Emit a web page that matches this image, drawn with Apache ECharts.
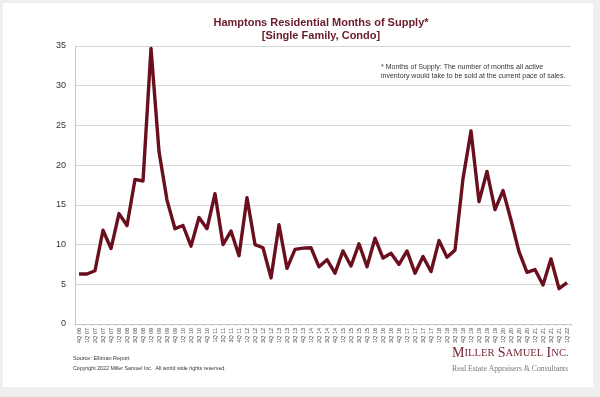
<!DOCTYPE html>
<html>
<head>
<meta charset="utf-8">
<script src="https://cdn.jsdelivr.net/npm/echarts@6/dist/echarts.min.js"></script>
<style>
html,body{margin:0;padding:0;background:#efefef;}
#card{position:absolute;left:3px;top:3px;width:590px;height:384px;background:#fff;}
#chart{position:absolute;left:0;top:0;width:600px;height:397px;}
</style>
</head>
<body>
<div id="card"></div>
<div id="chart"></div>
<script>
// quarters 4Q 06 .. 1Q 22
var quarters = ['4Q 06'];
for (var y = 7; y <= 21; y++) {
	for (var q = 1; q <= 4; q++) {
		quarters.push(q + 'Q ' + (y < 10 ? '0' + y : y));
	}
}
quarters.push('1Q 22');

// months of supply
var supply = [
	6.3, 6.3, 6.7, 11.8, 9.5, 13.9, 12.4, 18.2, 18.0, 34.7,
	21.7, 15.6, 12.0, 12.4, 9.8, 13.4, 12.0, 16.4, 10.0, 11.7,
	8.6, 15.9, 10.0, 9.6, 5.8, 12.5, 7.0, 9.4, 9.55, 9.6,
	7.2, 8.1, 6.4, 9.2, 7.3, 10.1, 7.2, 10.8, 8.3, 8.9,
	7.5, 9.2, 6.4, 8.5, 6.6, 10.5, 8.4, 9.3, 18.3, 24.3,
	15.4, 19.2, 14.4, 16.8, 13.1, 9.1, 6.5, 6.85, 4.9, 8.2,
	4.45, 5.2
];
var yTicks = [0, 5, 10, 15, 20, 25, 30, 35];

var myChart = echarts.init(document.getElementById('chart'));
var option = {
	backgroundColor: 'transparent',
	animation: false,
	textStyle: {fontFamily: 'Liberation Sans'},
	title: {
		text: 'Hamptons Residential Months of Supply*\n[Single Family, Condo]',
		left: 316,
		textAlign: 'center',
		top: 11,
		textStyle: {
			color: '#6b1a2a',
			fontSize: 11,
			fontWeight: 'bold',
			lineHeight: 13,
			fontFamily: 'Liberation Sans'
		}
	},
	grid: {left: 75, top: 46, width: 496, height: 278},
	xAxis: {
		type: 'category',
		data: quarters,
		boundaryGap: true,
		axisLine: {lineStyle: {color: '#c8c8c8', width: 1}},
		axisTick: {show: true, length: 2, interval: 0, lineStyle: {color: '#c8c8c8'}},
		axisLabel: {
			interval: 0,
			rotate: 90,
			fontSize: 5.5,
			color: '#444',
			margin: 4
		}
	},
	yAxis: {
		type: 'value',
		min: yTicks[0],
		max: yTicks[yTicks.length - 1],
		interval: 5,
		axisLine: {show: true, lineStyle: {color: '#c8c8c8'}},
		axisTick: {show: false},
		splitLine: {lineStyle: {color: '#d6d6d6', width: 1}},
		axisLabel: {fontSize: 9, color: '#333', margin: 9}
	},
	series: [{
		type: 'line',
		data: supply,
		symbol: 'none',
		lineStyle: {color: '#6a0f1e', width: 3.4, join: 'round'}
	}],
	graphic: [
		{
			type: 'text', left: 381, top: 63,
			style: {
				text: '* Months of Supply: The number of months all active\ninventory would take to be sold at the current pace of sales.',
				fontSize: 7, lineHeight: 9, fill: '#333', fontFamily: 'Liberation Sans'
			}
		},
		{
			type: 'text', left: 73, top: 355,
			style: {text: 'Source: Elliman Report', fontSize: 5.5, fill: '#333', fontFamily: 'Liberation Sans'}
		},
		{
			type: 'text', left: 73, top: 366,
			style: {text: 'Copyright 2022 Miller Samuel Inc.  All world wide rights reserved.', fontSize: 5.3, fill: '#333', fontFamily: 'Liberation Sans'}
		},
		{
			type: 'text', left: 452, top: 346,
			style: {
				text: '{b|M}{s|ILLER} {b|S}{s|AMUEL} {b|I}{s|NC.}',
				rich: {
					b: {fontSize: 14, fill: '#7b2633', fontFamily: 'Liberation Serif'},
					s: {fontSize: 10.6, fill: '#7b2633', fontFamily: 'Liberation Serif'}
				}
			}
		},
		{
			type: 'text', left: 452, top: 365,
			style: {text: 'Real Estate Appraisers & Consultants', fontSize: 7.7, fill: '#777', fontFamily: 'Liberation Serif'}
		}
	]
};
myChart.setOption(option);
</script>
</body>
</html>
